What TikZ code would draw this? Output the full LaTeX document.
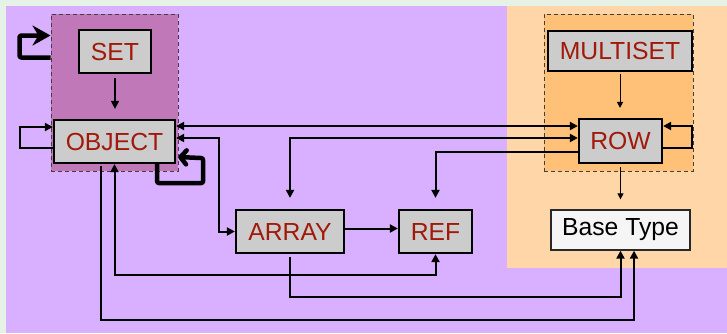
\documentclass[tikz,border=0pt]{standalone}
\usepackage{fontspec}
\setmainfont{Liberation Sans}
\usetikzlibrary{arrows.meta,calc}
\definecolor{marginbg}{RGB}{230,242,230}
\definecolor{purplebg}{RGB}{216,176,255}
\definecolor{orangebg}{RGB}{255,214,168}
\definecolor{grpLfill}{RGB}{192,120,184}
\definecolor{grpRfill}{RGB}{255,192,120}
\definecolor{boxgray}{RGB}{204,204,204}
\definecolor{basefill}{RGB}{245,245,245}
\definecolor{typered}{RGB}{160,25,10}
\definecolor{grpline}{RGB}{64,64,64}
\begin{document}
\begin{tikzpicture}[x=1pt,y=-1pt,
  typebox/.style={draw=black, line width=2.2pt, fill=boxgray, text=typered,
    font=\fontsize{24.7}{28}\selectfont, inner sep=0pt, minimum height=43pt},
  thinbox/.style={typebox, line width=1.2pt},
  grp/.style={draw=grpline, line width=1pt, dash pattern=on 4pt off 3pt, inner sep=0pt},
  conn/.style={line width=2pt, -{Triangle[length=8pt,width=8pt]}},
  both/.style={line width=2pt, {Triangle[length=8pt,width=8pt]}-{Triangle[length=8pt,width=8pt]}},
  thinconn/.style={line width=1pt, -{Triangle[length=6pt,width=6pt]}},
  heavy/.style={line width=4.5pt, line join=round, rounded corners=2pt}]
\useasboundingbox (0,0) rectangle (727,333);
\fill[marginbg] (0,0) rectangle (727,333);
\fill[purplebg] (6,6) rectangle (727,333);
\fill[orangebg] (507,6) rectangle (727,268);

% groups
\node[grp, fill=grpLfill, minimum width=127pt, minimum height=157pt] (grpL) at (114.5,92.5) {};
\node[grp, fill=grpRfill, minimum width=149pt, minimum height=157pt] (grpR) at (618.5,92.5) {};

% type boxes
\node[typebox, minimum width=72pt] (SET) at (115,51.5) {SET};
\node[typebox, minimum width=121pt] (OBJECT) at (114.5,141.5) {OBJECT};
\node[thinbox, minimum width=144pt, minimum height=40pt] (MULTISET) at (620,51) {MULTISET};
\node[typebox, minimum width=83pt, minimum height=44pt] (ROW) at (620.5,141) {ROW};
\node[thinbox, draw={rgb,255:red,40;green,40;blue,40}, line width=1.3pt, fill=basefill, text=black, minimum width=139pt, minimum height=40pt] (BASE) at (620.5,230) {Base Type};
\node[typebox, minimum width=108pt] (ARRAY) at (290,231.5) {ARRAY};
\node[typebox, minimum width=73pt] (REF) at (435.5,231.5) {REF};

% helper coordinates
\coordinate (o1) at ($(OBJECT.east)+(0,-15.5)$);
\coordinate (o2) at ($(OBJECT.east)+(0,-3.5)$);
\coordinate (r2) at ($(ROW.west)+(0,-3)$);
\coordinate (r3) at ($(ROW.west)+(0,11)$);

% thick self loops
\draw[heavy, -{Stealth[length=18pt,width=20pt]}] ($(grpL.north west)+(0,44)$) -- ++(-31,0) -- ++(0,-22) -- ($(grpL.north west)+(0,22)$);
\draw[heavy, -{Straight Barb[round,length=6pt,width=14pt]}] ($(OBJECT.south east)+(-19,0)$) -- ++(0,19) -- ++(46,0) -- ++(0,-25) -- ($(OBJECT.east)+(2,15.5)$);

% thin self loops
\draw[conn] ($(OBJECT.west)+(0,6.5)$) -- ++(-33,0) |- ($(OBJECT.west)+(0,-14.5)$);
\draw[conn] ($(ROW.east)+(0,7)$) -- ++(29,0) |- ($(ROW.east)+(0,-15)$);

% vertical thin arrows
\draw[conn, line width=1.6pt, shorten <=4pt, shorten >=10pt] (SET.south) -- (SET.south |- OBJECT.north);
\draw[thinconn, shorten <=2pt, shorten >=10pt] (MULTISET.south) -- (MULTISET.south |- ROW.north);
\draw[thinconn, shorten <=3pt, shorten >=10pt] (ROW.south) -- (ROW.south |- BASE.north);

% connectors
\draw[both] (o1) -- (o1 -| ROW.west);
\draw[both] (o2) -- ++(43,0) |- (ARRAY.west);
\draw[both, shorten <=11pt] (ARRAY.north) |- (r2);
\draw[conn, shorten >=11pt] (r3) -| (REF.north);
\draw[conn] ($(ARRAY.east)+(0,-3)$) -- ($(REF.west)+(0,-3)$);
\draw[conn, shorten <=2pt] ($(OBJECT.south)+(-13.5,0)$) -- ++(0,156) -| ($(BASE.south)+(13.5,0)$);
\draw[both] (OBJECT.south) -- ++(0,111) -| (REF.south);
\draw[conn, shorten <=3pt] (ARRAY.south) -- ++(0,43) -| (BASE.south);
\end{tikzpicture}
\end{document}
